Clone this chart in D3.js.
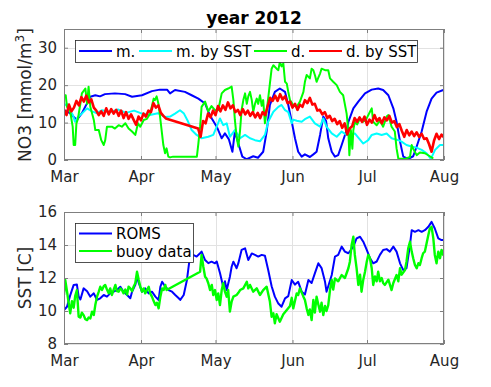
<!DOCTYPE html>
<html><head><meta charset="utf-8">
<script src="https://cdn.jsdelivr.net/npm/d3@7"></script>
<style>body{margin:0;background:#fff}svg{display:block}text{font-family:"DejaVu Sans",sans-serif}</style>
</head><body><svg id="c" width="491" height="387"></svg>
<script>
// ---- data (day offsets from 1 Mar 2012) ----
const monthTicks = ["Mar","Apr","May","Jun","Jul","Aug"];
const no3Ticks = [0,10,20,30];
const sstTicks = [8,10,12,14,16];
const no3Names = ["m.","m. by SST","d.","d. by SST"];
const sstNames = ["ROMS","buoy data"];

const mSeries = [[0,13.3],[2.4,12.5],[5.2,10.7],[7.2,12.5],[9.3,15.2],[10.6,16.9],[12.6,17.3],[14.5,17.0],[16.5,17.6],[20.5,17.8],[24.6,17.6],[27.4,16.9],[31.4,17.3],[35.4,18.4],[38.6,18.8],[41.5,18.8],[42.7,17.8],[44.7,18.7],[48.7,18.2],[51.4,17.3],[54.1,16.4],[56.8,15.1],[58.1,12.9],[59.5,11.1],[61.5,8.9],[63.5,5.8],[64.8,7.1],[66.4,5.5],[67.8,2.2],[68.8,7.6],[70.2,4.4],[71.8,0.9],[73.6,0.2],[76.2,1.0],[78.1,0.6],[80.2,2.2],[81.6,7.6],[82.9,14.7],[84.9,18.2],[86.9,19.1],[89.0,18.2],[90.3,14.7],[91.7,10.2],[93.0,5.8],[94.3,2.2],[95.7,0.9],[97.0,1.5],[99.0,0.8],[100.4,1.5],[101.7,2.2],[103.1,6.7],[104.4,11.6],[105.5,10.5],[106.4,5.8],[107.8,2.2],[109.1,0.9],[110.4,1.3],[111.8,4.0],[113.8,8.0],[114.5,10.2],[116.5,13.8],[118.5,15.6],[121.2,17.8],[123.9,18.8],[126.5,19.1],[128.5,18.7],[130.6,17.3],[132.6,13.8],[133.9,10.2],[135.3,4.9],[136.6,0.9],[138.6,0.3],[140.6,1.0],[142.0,3.6],[144.0,7.6],[146.0,12.9],[148.0,16.4],[150.0,18.0],[152.7,18.7],[153,18.8]];

const mSstSeries = [[0,14.5],[1.2,15.0],[2.4,13.3],[3.6,12.0],[4.4,10.2],[5.6,11.5],[7.2,12.4],[9.3,13.8],[11.3,13.0],[13.3,12.5],[15.3,13.3],[18.5,12.8],[21.7,13.5],[25.0,12.6],[28.2,13.2],[31.4,12.4],[34.6,12.0],[37.8,12.5],[40.7,11.5],[42.7,11.6],[44.7,12.4],[46.7,13.3],[48.3,12.4],[50.0,10.2],[51.4,8.0],[53.4,6.7],[55.4,5.8],[58.1,6.2],[60.1,6.7],[61.5,8.9],[62.8,11.1],[64.1,9.3],[65.5,9.8],[66.8,6.2],[68.8,8.0],[70.9,5.8],[72.9,6.7],[74.9,5.8],[76.9,5.3],[78.9,5.0],[80.9,6.7],[82.2,10.2],[84.3,12.9],[86.3,14.2],[87.6,14.7],[89.0,13.3],[90.3,12.8],[91.7,9.8],[92.3,10.8],[93.7,10.5],[95.7,10.2],[97.0,10.9],[99.0,11.6],[101.0,9.8],[103.1,8.9],[104.4,11.1],[105.7,8.9],[107.8,7.1],[109.8,6.2],[111.8,7.6],[113.8,6.7],[115.1,6.7],[117.1,7.1],[118.5,6.0],[120.5,4.4],[122.5,5.3],[123.9,6.7],[125.9,7.1],[127.9,6.7],[129.9,7.1],[131.9,5.8],[134.6,5.3],[135.9,4.9],[137.9,4.0],[139.9,3.6],[141.9,3.3],[144.0,2.7],[146.0,1.8],[147.7,0.3],[149.4,2.7],[151.4,4.0],[153,4.0]];

const dSeries = [[0,17.3],[0.7,17.3],[1.2,14.2],[2.4,13.3],[3.5,8.9],[3.9,4.0],[4.5,4.0],[5.0,9.8],[5.6,11.0],[6.6,15.1],[7.2,17.8],[8.6,19.1],[9.3,15.0],[9.9,19.6],[10.6,14.2],[12.0,10.7],[12.6,8.0],[14.0,8.0],[15.0,5.3],[16.0,4.0],[16.6,5.3],[17.3,8.9],[19.3,8.9],[20.5,8.4],[22.0,9.3],[23.3,8.9],[24.7,9.8],[26.0,8.4],[27.4,7.6],[28.7,6.7],[29.8,9.8],[30.7,8.9],[32.1,10.7],[33.4,11.0],[34.7,12.4],[36.1,16.4],[36.6,16.0],[37.3,17.0],[38.0,15.1],[38.6,12.0],[39.3,8.0],[40.0,4.0],[40.7,1.8],[41.3,3.1],[42.0,0.9],[42.7,0.7],[43.9,0.9],[53.5,0.9],[54.1,4.4],[54.8,8.9],[55.4,14.2],[56.8,15.6],[58.1,13.0],[59.4,14.4],[60.8,13.3],[62.1,13.3],[63.5,17.8],[64.8,18.7],[66.1,19.1],[67.5,19.6],[68.2,16.0],[68.8,10.7],[69.5,6.2],[70.2,3.6],[70.9,8.0],[71.5,13.3],[72.2,16.0],[72.9,17.8],[73.6,15.0],[74.2,17.0],[74.9,18.2],[75.6,16.0],[76.2,12.9],[76.9,15.0],[77.6,16.4],[78.2,15.0],[78.9,17.3],[79.6,14.5],[80.2,16.0],[80.9,9.8],[81.6,13.0],[82.2,16.4],[82.9,20.4],[83.6,24.4],[84.3,25.3],[85.6,24.4],[86.3,24.0],[86.9,26.2],[87.6,25.0],[88.3,25.8],[89.0,20.9],[89.7,20.4],[90.3,18.2],[91.0,16.0],[92.3,14.7],[93.7,14.2],[95.0,15.6],[96.4,18.2],[97.0,20.9],[97.7,22.7],[99.0,21.8],[99.7,24.4],[100.4,24.0],[101.1,22.5],[101.7,20.9],[102.4,22.0],[103.1,23.1],[103.7,24.4],[105.1,24.0],[106.4,24.0],[107.1,21.8],[108.4,20.9],[109.8,20.0],[111.1,18.2],[112.4,17.3],[113.8,12.4],[114.5,7.6],[114.9,1.3],[115.5,8.0],[116.1,3.0],[116.5,8.0],[117.1,10.2],[118.0,9.5],[119.2,11.1],[120.4,10.2],[121.6,10.8],[123.2,12.9],[123.9,13.8],[124.5,10.2],[125.9,9.3],[127.2,10.5],[128.5,8.9],[129.9,11.6],[130.6,12.0],[131.9,8.9],[133.2,7.6],[133.9,3.1],[134.6,0.4],[137.3,0.3],[139.3,0.8],[140.0,4.0],[140.6,3.0],[142.0,1.3],[143.3,2.0],[145.3,1.8],[147.3,1.0],[148.7,0.4]];

// d. by SST, one value per day (index = day), null = missing
const dSstVals = [13.5,12.0,14.8,13.0,14.0,15.8,14.6,16.8,15.6,17.2,15.4,16.2,14.0,13.2,12.0,13.0,11.8,13.8,12.2,13.6,12.4,13.4,11.8,13.2,11.2,12.8,11.0,12.2,10.8,9.4,11.6,10.6,12.4,11.6,13.2,12.8,15.2,14.0,14.6,12.6,11.8,11.1,
null,null,null,null,null,null,null,null,null,null,null,null,
8.4,6.2,10.4,9.8,12.4,11.4,13.2,12.0,14.4,13.0,14.6,13.4,15.4,13.8,14.6,12.8,13.4,12.0,13.6,12.2,13.2,11.8,12.8,11.4,12.6,11.2,12.8,12.0,14.4,16.6,15.8,17.2,15.8,17.6,16.2,17.0,15.2,15.6,14.0,15.0,13.4,14.8,14.2,16.0,15.2,16.6,14.8,15.0,13.2,13.4,12.2,12.8,11.2,11.8,10.4,11.0,9.6,10.4,8.6,9.8,6.8,8.4,9.0,11.2,10.2,11.4,10.2,11.6,9.4,10.8,10.0,12.0,10.4,11.2,9.8,11.4,10.6,11.8,10.0,10.4,8.8,9.6,7.8,6.2,8.0,6.6,7.6,6.4,7.4,6.2,7.0,5.6,5.8,4.2,2.2,5.2,7.0,5.6,6.8,6.0];

const romsSeries = [[0,10.06],[1.2,10.26],[2.4,10.9],[3.9,11.58],[5.2,11.6],[5.9,10.87],[6.6,10.7],[7.9,11.37],[9.3,11.2],[10.6,10.87],[12,11.07],[13.3,10.67],[14.6,10.77],[16,10.97],[17.3,10.87],[18.6,11.07],[20,11.17],[21.3,11.27],[22.7,11.47],[24,11.17],[25.4,10.97],[26.7,10.77],[27.4,11.17],[28.7,11.58],[29.4,12.08],[30.1,11.7],[31.4,11.17],[32.7,11.37],[34.1,11.07],[35.4,11.17],[36.8,10.87],[38.1,10.67],[38.8,11.47],[39.5,11.77],[40.8,11.47],[42.1,11.27],[43.5,11.17],[44.8,10.97],[46.2,10.77],[46.8,10.67],[48.2,10.97],[49.5,11.88],[50.7,13.3],[52,13.4],[53.4,13.3],[54.8,13.5],[55.4,13.6],[56.8,13.09],[58.1,12.9],[59.4,12.99],[60.8,12.89],[61.5,13.0],[62.8,12.3],[64.1,11.47],[64.8,11.8],[65.5,11.27],[66.8,12.08],[67.5,12.68],[68.2,12.99],[69.5,12.59],[70.2,12.9],[71.5,13.7],[72.9,13.8],[74.2,13.09],[75.6,13.49],[76.9,13.4],[78.2,13.3],[79.6,13.4],[80.9,13.35],[82.2,12.5],[83.6,11.5],[84.9,10.87],[86.3,10.45],[87.6,10.26],[89,10.77],[90.3,10.9],[91.7,11.88],[93,11.6],[94.3,11.77],[95.7,11.17],[97,11.0],[98.4,11.88],[99.7,11.7],[101,12.28],[102.4,12.89],[103.7,12.6],[105.1,11.77],[105.7,11.17],[106.4,11.5],[107.8,12.18],[109.1,13.3],[110.4,13.4],[111.8,13.9],[113.1,13.6],[114.5,13.5],[116.5,13.9],[117.8,14.4],[119.2,14.5],[120.5,14.2],[121.9,13.7],[123.2,13.2],[124.5,12.89],[125.9,13.0],[127.2,13.4],[128.5,13.7],[129.9,13.75],[131.2,13.6],[132.6,13.9],[133.9,13.6],[135.3,12.89],[136.6,12.48],[137.9,12.6],[139.3,14.0],[140,14.9],[141.3,14.8],[142.7,14.9],[144,14.8],[145.3,14.9],[146.7,15.1],[148,15.4],[149.3,15.0],[150.7,14.4],[152,14.3],[153,14.3]];

const buoySeries = [[0,10.97],[0.5,11.88],[1.2,11.2],[1.9,10.47],[2.5,9.86],[3.2,10.6],[3.9,10.2],[4.5,10.9],[5.2,11.27],[5.9,9.65],[6.6,9.6],[7.2,9.9],[7.9,9.75],[8.6,9.5],[9.3,9.45],[9.9,9.6],[10.6,9.55],[11.3,9.96],[12,9.76],[12.6,10.36],[13.3,10.87],[14,11.17],[14.6,11.47],[15.3,11.27],[16,11.5],[16.6,11.58],[17.3,11.3],[18,11.07],[18.6,11.37],[19.3,10.97],[20,11.3],[20.7,11.58],[21.3,11.2],[22,11.17],[22.7,11.37],[23.3,11.27],[24,11.07],[24.7,11.3],[25.4,11.0],[26,11.47],[26.7,11.37],[27.4,11.2],[28.1,11.5],[28.7,11.68],[29.4,12.38],[30.1,11.88],[30.7,11.5],[31.4,11.17],[32.1,11.37],[32.7,11.07],[33.4,11.27],[34.1,11.47],[34.7,11.07],[35.4,10.87],[36.1,10.6],[36.8,10.36],[37.4,10.5],[38.1,10.16],[38.8,10.87],[39.5,11.37],[40.1,11.27],[40.8,11.58],[41.3,11.27],[54.8,12.38],[55.4,13.4],[56.1,12.68],[56.8,12.08],[57.4,11.97],[58.1,11.68],[58.8,11.27],[59.5,11.58],[60.1,10.97],[60.8,11.27],[61.5,10.67],[62.1,11.07],[62.8,10.36],[63.5,11.27],[64.1,11.68],[64.8,11.17],[65.5,10.87],[66.1,11.27],[66.8,9.96],[67.5,10.57],[68.2,10.87],[69.5,10.97],[70.2,11.1],[70.9,11.27],[72.2,11.37],[73.6,11.77],[74.2,11.37],[74.9,11.58],[76.2,11.17],[77.6,11.37],[78.9,10.97],[80.2,11.27],[81.6,11.47],[82.9,10.57],[83.6,9.65],[84.3,9.86],[84.9,9.25],[85.6,9.8],[86.9,9.35],[88.3,9.8],[89.7,10.06],[91,10.3],[91.7,10.8],[92.3,10.16],[93.7,11.07],[94.3,10.97],[95,11.37],[96.4,10.87],[97,10.67],[97.7,10.16],[98.4,9.76],[99,10.1],[99.7,9.45],[100.4,10.67],[101,9.9],[101.7,10.87],[102.4,10.4],[103.1,9.96],[103.7,10.5],[104.4,9.76],[105.1,10.3],[105.7,10.0],[106.4,10.36],[107.1,11.27],[107.8,11.88],[108.4,11.3],[109.1,11.97],[110.4,11.8],[111.8,12.18],[113.1,12.0],[114.5,12.59],[115.1,12.99],[115.8,14.0],[116.5,14.5],[117.1,13.4],[117.8,12.6],[118.5,11.58],[119.2,12.2],[119.8,11.17],[120.5,11.9],[121.2,12.38],[121.9,12.99],[122.5,13.4],[123.2,13.2],[123.9,12.59],[124.5,11.58],[125.2,12.1],[125.9,11.8],[126.5,12.38],[127.2,11.8],[127.9,12.0],[128.5,11.7],[129.2,11.58],[130.6,11.9],[131.9,11.27],[132.6,11.7],[133.9,12.18],[134.6,11.8],[135.3,12.59],[135.9,12.2],[137.3,12.48],[137.9,12.99],[138.6,13.8],[139.3,14.2],[140,13.6],[140.6,13.2],[141.3,12.79],[142,12.59],[142.7,12.9],[143.3,12.79],[144,13.2],[144.6,13.5],[145.3,13.6],[146,14.1],[146.7,14.6],[147.3,15.0],[148,15.1],[148.7,14.4],[149.3,13.4],[150,12.89],[150.7,13.6],[151.4,13.2],[152,13.7],[152.7,13.4],[153,13.7]];

// ---- drawing ----
const svg = d3.select("#c");
const base = Date.UTC(2012,2,1);
const toDate = d => new Date(base + d*864e5);
const x = d3.scaleUtc().domain([new Date(Date.UTC(2012,2,1)), new Date(Date.UTC(2012,7,1))]).range([64,444]);
const monthDates = d3.utcMonth.range(new Date(Date.UTC(2012,2,1)), new Date(Date.UTC(2012,7,2)));
const AX = "#262626", BOX = "#7f7f7f", GRID = "#e2e2e2";

const dSstSeries = dSstVals.map((v,i)=>[i,v]).filter(d=>d[1]!==null);

function panel(id, y0, y1, domain, ticks, series, colors, widths, legend){
  const y = d3.scaleLinear().domain(domain).range([y1,y0]);
  const g = svg.append("g");
  g.selectAll(null).data(monthDates).join("line")
    .attr("x1",d=>Math.round(x(d))+0.5).attr("x2",d=>Math.round(x(d))+0.5)
    .attr("y1",y0).attr("y2",y1).attr("stroke",GRID).attr("stroke-width",1);
  g.selectAll(null).data(ticks).join("line")
    .attr("y1",d=>Math.round(y(d))+0.5).attr("y2",d=>Math.round(y(d))+0.5)
    .attr("x1",64).attr("x2",444).attr("stroke",GRID).attr("stroke-width",1);
  svg.append("clipPath").attr("id","clip"+id).append("rect")
    .attr("x",64).attr("y",y0).attr("width",380).attr("height",y1-y0);
  const line = d3.line().x(d=>x(toDate(d[0]))).y(d=>y(d[1]));
  const lg = g.append("g").attr("clip-path","url(#clip"+id+")");
  series.forEach((s,i)=>{
    lg.append("path").datum(s).attr("d",line).attr("fill","none")
      .attr("stroke",colors[i]).attr("stroke-width",widths[i]).attr("stroke-linejoin","round");
  });
  const xb = d3.axisBottom(x).tickValues(monthDates).tickFormat((d,i)=>monthTicks[i]).tickSizeInner(-4).tickSizeOuter(0).tickPadding(11);
  const xt = d3.axisTop(x).tickValues(monthDates).tickFormat("").tickSizeInner(-4).tickSizeOuter(0);
  const yl = d3.axisLeft(y).tickValues(ticks).tickSizeInner(-4).tickSizeOuter(0).tickPadding(7);
  const yr = d3.axisRight(y).tickValues(ticks).tickFormat("").tickSizeInner(-4).tickSizeOuter(0);
  const axes = [
    g.append("g").attr("transform",`translate(0,${y1})`).call(xb),
    g.append("g").attr("transform",`translate(0,${y0})`).call(xt),
    g.append("g").attr("transform",`translate(64,0)`).call(yl),
    g.append("g").attr("transform",`translate(444,0)`).call(yr)
  ];
  axes.forEach(a=>{
    a.select(".domain").remove();
    a.selectAll(".tick line").attr("stroke",BOX);
    a.selectAll("text").attr("fill",AX).style("font-size","15px").style("font-family","DejaVu Sans");
  });
  g.append("rect").attr("x",64.5).attr("y",y0+0.5).attr("width",379).attr("height",y1-y0-1)
    .attr("fill","none").attr("stroke",BOX).attr("stroke-width",1);
  const L = g.append("g");
  L.append("rect").attr("x",legend.box[0]+0.5).attr("y",legend.box[1]+0.5)
    .attr("width",legend.box[2]).attr("height",legend.box[3])
    .attr("fill","#fff").attr("stroke",AX).attr("stroke-width",0.8);
  legend.items.forEach((it,i)=>{
    L.append("line").attr("x1",it[0]).attr("x2",it[0]+33).attr("y1",it[1]).attr("y2",it[1])
      .attr("stroke",colors[i]).attr("stroke-width",2);
    L.append("text").attr("x",it[0]+37).attr("y",it[1]+5.5).text(legend.names[i])
      .attr("fill","#000").style("font-size","15px");
  });
  return y;
}

panel("a",29,160,[0,35],no3Ticks,[mSeries,mSstSeries,dSeries,dSstSeries],
  ["#0000ff","#00ffff","#00ff00","#ff0000"],[2,2,2,2.6],
  {box:[75,40,342,22], names:no3Names, items:[[79,51],[139,51],[254,51],[309,51]]});
panel("b",212,344,[8,16],sstTicks,[romsSeries,buoySeries],
  ["#0000ff","#00ff00"],[2,2.4],
  {box:[75,223,118,39], names:sstNames, items:[[79,233.5],[79,251]]});

svg.append("text").attr("x",254).attr("y",24).attr("text-anchor","middle")
  .style("font-size","17px").style("font-weight","bold").attr("fill","#000").text("year 2012");

const yl1 = svg.append("text").attr("transform","translate(31,95) rotate(-90)")
  .attr("text-anchor","middle").attr("fill",AX).style("font-size","17px");
yl1.append("tspan").text("NO3 [mmol/m");
yl1.append("tspan").attr("dy",-7).style("font-size","12px").text("3");
yl1.append("tspan").attr("dy",7).text("]");
svg.append("text").attr("transform","translate(31,278) rotate(-90)")
  .attr("text-anchor","middle").attr("fill",AX).style("font-size","17px").text("SST [C]");
</script></body></html>
